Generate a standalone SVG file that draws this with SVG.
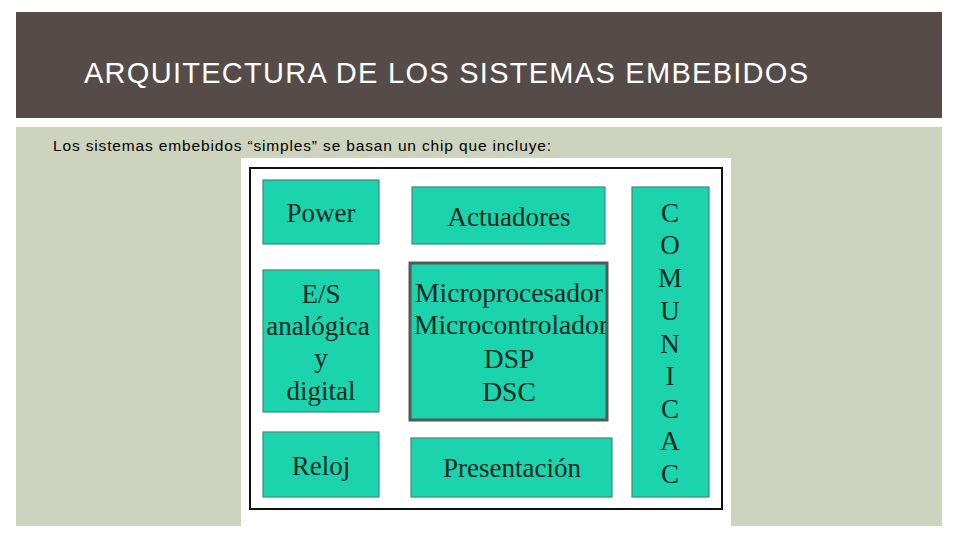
<svg xmlns="http://www.w3.org/2000/svg" width="960" height="540" viewBox="0 0 960 540">
<style>
.box{fill:#1bd4ad;stroke:#3d8a78;stroke-width:1.2}
.bt{font-family:"Liberation Serif","Times New Roman",serif;font-size:27px;fill:#0b2a22;text-anchor:middle}
.mt{font-size:27.5px}
</style>
<rect width="960" height="540" fill="#ffffff"/>
<rect x="16" y="12" width="926" height="106" fill="#554c4a"/>
<text x="84" y="83" font-family="Liberation Sans, Arial, sans-serif" font-size="29" fill="#ffffff" textLength="724" lengthAdjust="spacing">ARQUITECTURA DE LOS SISTEMAS EMBEBIDOS</text>
<rect x="16" y="127" width="926" height="399" fill="#cdd3bc"/>
<text x="53" y="151" font-family="Liberation Sans, Arial, sans-serif" font-size="15.5" fill="#000000" textLength="498" lengthAdjust="spacing">Los sistemas embebidos “simples” se basan un chip que incluye:</text>
<rect x="241" y="158" width="490" height="368" fill="#ffffff"/>
<rect x="250" y="168" width="472" height="341" fill="none" stroke="#111" stroke-width="2"/>
<g id="power"><rect class="box" x="263" y="180" width="116" height="64"/><text class="bt" x="321" y="222">Power</text></g>
<g id="actuadores"><rect class="box" x="412" y="187" width="193" height="57"/><text class="bt" x="509" y="226">Actuadores</text></g>
<g id="comunicac"><rect class="box" x="632" y="187" width="77" height="310"/>
<text class="bt" x="670" y="222">C</text><text class="bt" x="670" y="254">O</text><text class="bt" x="670" y="287">M</text><text class="bt" x="670" y="320">U</text><text class="bt" x="670" y="353">N</text><text class="bt" x="670" y="385">I</text><text class="bt" x="670" y="418">C</text><text class="bt" x="670" y="450">A</text><text class="bt" x="670" y="483">C</text></g>
<g id="es"><rect class="box" x="263" y="270" width="116" height="142"/>
<text class="bt" x="321" y="303">E/S</text><text class="bt" x="318" y="335">analógica</text><text class="bt" x="321" y="367">y</text><text class="bt" x="321" y="400">digital</text></g>
<g id="micro"><rect x="410" y="263" width="197" height="157" fill="#1bd4ad" stroke="#505a56" stroke-width="3"/>
<clipPath id="mc"><rect x="411" y="264" width="195" height="155"/></clipPath>
<g clip-path="url(#mc)">
<text class="bt mt" x="509" y="302">Microprocesador</text>
<text class="bt mt" x="511" y="334">Microcontrolador</text>
<text class="bt mt" x="509" y="368">DSP</text>
<text class="bt mt" x="509" y="401">DSC</text></g></g>
<g id="reloj"><rect class="box" x="263" y="432" width="116" height="65"/><text class="bt" x="321" y="475">Reloj</text></g>
<g id="presentacion"><rect class="box" x="411" y="438" width="201" height="59"/><text class="bt" x="512" y="477">Presentación</text></g>
<g id="connectors"/>
</svg>
